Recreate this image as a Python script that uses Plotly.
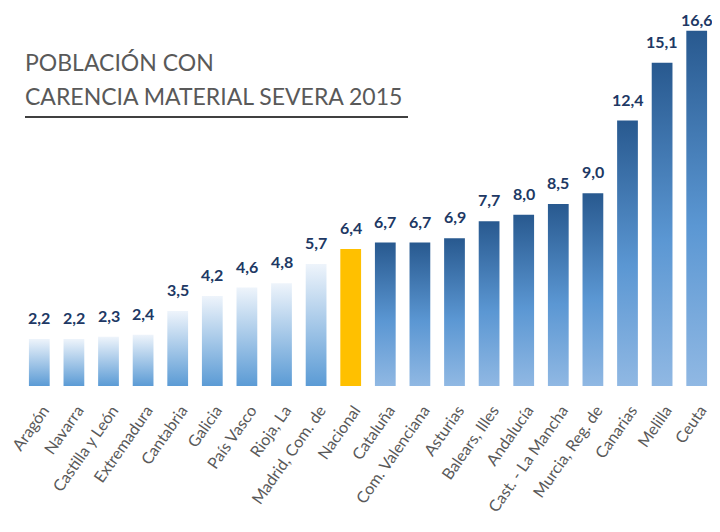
import plotly.graph_objects as go

categories = ["Aragón", "Navarra", "Castilla y León", "Extremadura", "Cantabria",
              "Galicia", "País Vasco", "Rioja, La", "Madrid, Com. de", "Nacional",
              "Cataluña", "Com. Valenciana", "Asturias", "Balears, Illes", "Andalucía",
              "Cast. - La Mancha", "Murcia, Reg. de", "Canarias", "Melilla", "Ceuta"]
values = [2.2, 2.2, 2.3, 2.4, 3.5, 4.2, 4.6, 4.8, 5.7, 6.4,
          6.7, 6.7, 6.9, 7.7, 8.0, 8.5, 9.0, 12.4, 15.1, 16.6]
groups = ["low"] * 9 + ["national"] + ["high"] * 10

title_line1 = "POBLACIÓN CON"
title_line2 = "CARENCIA MATERIAL SEVERA 2015"

BAR_W = 0.6
YMAX = 17.1
FONT = "Lato, 'Open Sans', sans-serif"
gradients = {
    "low": [[0, "#5b9bd5"], [1, "#eef4fb"]],
    "national": [[0, "#ffc000"], [1, "#ffc000"]],
    "high": [[0, "#90b8e3"], [0.45, "#5b97d3"], [1, "#28598f"]],
}

# page body has an 8px margin; figure is sized to fill the rest of the window
W, H = 712, 524
ML, MR, MT, MB = 14, 6, 12, 146
PW, PH = W - ML - MR, H - MT - MB

xs = list(range(len(categories)))
fig = go.Figure()

# base bars (transparent) define the bar geometry
fig.add_trace(go.Bar(x=xs, y=values, width=BAR_W,
                     marker=dict(color="rgba(0,0,0,0)", line=dict(width=0)),
                     hoverinfo="skip", showlegend=False))

# gradient-filled bodies matching each bar
for i, (v, g) in enumerate(zip(values, groups)):
    x0, x1 = i - BAR_W / 2, i + BAR_W / 2
    fig.add_trace(go.Scatter(
        x=[x0, x1, x1, x0, x0], y=[0, 0, v, v, 0],
        mode="lines", line=dict(width=0), fill="toself",
        fillgradient=dict(type="vertical", colorscale=gradients[g], start=0, stop=v),
        hoverinfo="skip", showlegend=False))

for i, v in enumerate(values):
    top_px = MT + PH * (1 - v / YMAX)
    shift = max(0, min(10, top_px - 23))
    fig.add_annotation(x=i, y=v, yanchor="bottom", yshift=shift, showarrow=False,
                       text="<b>" + f"{v:.1f}".replace(".", ",") + "</b>",
                       font=dict(family=FONT, size=16, color="#203864"))

def px_x(x):
    return (x - ML) / PW

def px_y(y):
    return (MT + PH - y) / PH

fig.add_annotation(xref="paper", yref="paper", x=px_x(15), y=px_y(54), xanchor="left",
                   yanchor="middle", showarrow=False, text=title_line1,
                   font=dict(family=FONT, size=23, color="#595959"))
fig.add_annotation(xref="paper", yref="paper", x=px_x(15), y=px_y(88), xanchor="left",
                   yanchor="middle", showarrow=False, text=title_line2,
                   font=dict(family=FONT, size=23, color="#595959"))
# title underline
fig.add_shape(type="line", xref="paper", yref="paper",
              x0=px_x(17), x1=px_x(400), y0=px_y(109), y1=px_y(109),
              line=dict(color="#404040", width=2))
# slide border on the right
fig.add_shape(type="line", xref="paper", yref="paper",
              x0=px_x(710), x1=px_x(710), y0=px_y(H), y1=px_y(0),
              line=dict(color="#e2e2e2", width=3))

fig.update_layout(
    width=W, height=H,
    margin=dict(l=ML, r=MR, t=MT, b=MB, autoexpand=False),
    paper_bgcolor="white", plot_bgcolor="white",
    bargap=0.4,
    xaxis=dict(range=[-0.5, len(categories) - 0.5], tickmode="array",
               tickvals=xs, ticktext=categories, tickangle=-55,
               automargin=False,
               ticklabeloverflow="allow", ticklabelstandoff=11, ticklabelshift=4,
               showgrid=False, zeroline=False, showline=False, ticks="",
               tickfont=dict(family=FONT, size=16, color="#595959")),
    yaxis=dict(range=[0, YMAX], visible=False, showgrid=False, zeroline=False,
               automargin=False),
)

fig.write_html("out.html")
